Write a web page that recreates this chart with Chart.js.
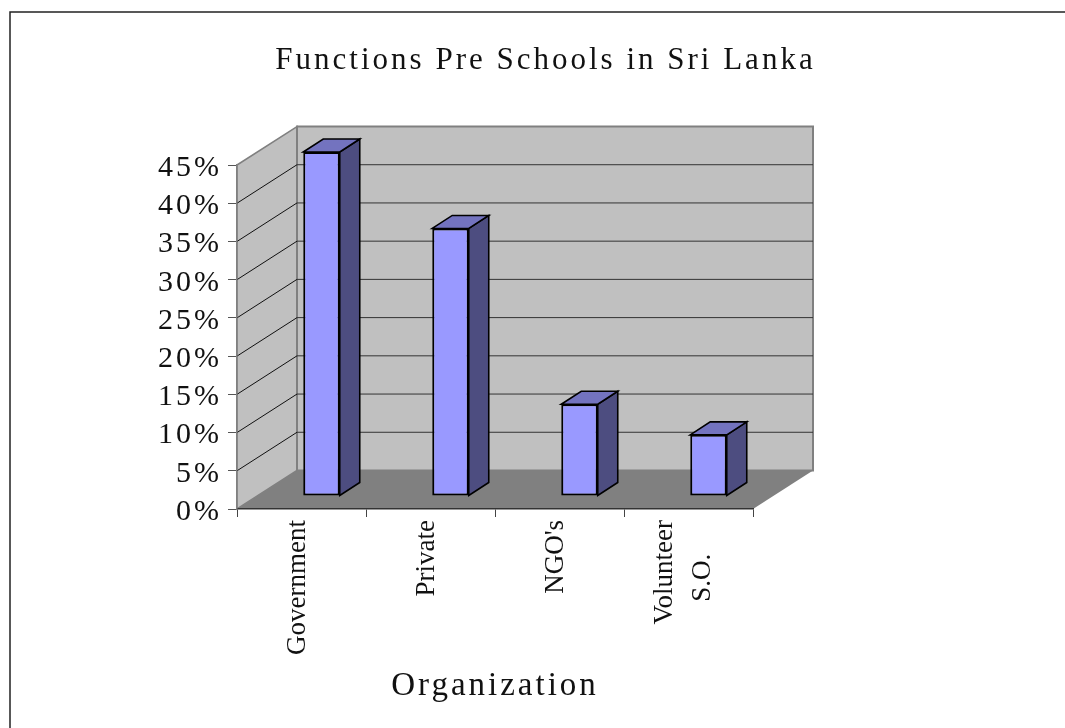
<!DOCTYPE html>
<html>
<head>
<meta charset="utf-8">
<title>Functions Pre Schools in Sri Lanka</title>
<script src="https://cdn.jsdelivr.net/npm/chart.js@4"></script>
<style>
  html, body { margin: 0; padding: 0; background: #fff; }
  canvas { display: block; }
</style>
</head>
<body>
<canvas id="chart" width="1065" height="728"></canvas>
<script>
const categories = ['Government', 'Private', "NGO's", ['Volunteer', 'S.O.']];
const shares = [45, 35, 12, 8];
const y_max = 45;
const y_step = 5;
const chart_title = 'Functions Pre Schools in Sri Lanka';
const x_title = 'Organization';

// depth of the floor and of the bars, in pixels
const wall_dx = 60, wall_dy = -38.5;
const bar_dx = 20, bar_dy = -13;
const serif = '"Liberation Serif", serif';

function poly(ctx, points, fill, stroke, width) {
    ctx.beginPath();
    points.forEach((p, i) => i ? ctx.lineTo(p[0], p[1]) : ctx.moveTo(p[0], p[1]));
    ctx.closePath();
    if (fill) { ctx.fillStyle = fill; ctx.fill(); }
    if (stroke) { ctx.strokeStyle = stroke; ctx.lineWidth = width; ctx.stroke(); }
}

const box3d = {
    id: 'box3d',
    afterLayout(chart) {
        // title sits a little right of the canvas middle
        chart.titleBlock.left = 26;
        chart.titleBlock.right = chart.width;
    },
    beforeDraw(chart) {
        const ctx = chart.ctx;
        const { left, right } = chart.chartArea;
        const y = chart.scales.y;
        const y0 = y.getPixelForValue(0), yTop = y.getPixelForValue(y_max);

        ctx.save();
        // page frame, only top and left are visible
        ctx.beginPath();
        ctx.moveTo(10, 728);
        ctx.lineTo(10, 12);
        ctx.lineTo(1065, 12);
        ctx.strokeStyle = '#222';
        ctx.lineWidth = 1.5;
        ctx.stroke();

        poly(ctx, [[left, yTop], [left + wall_dx, yTop + wall_dy], [left + wall_dx, y0 + wall_dy], [left, y0]], '#c0c0c0', '#808080', 1.5);
        poly(ctx, [[left + wall_dx, yTop + wall_dy], [right + wall_dx, yTop + wall_dy], [right + wall_dx, y0 + wall_dy], [left + wall_dx, y0 + wall_dy]], '#c0c0c0', '#808080', 2);
        poly(ctx, [[left, y0], [right, y0], [right + wall_dx, y0 + wall_dy], [left + wall_dx, y0 + wall_dy]], '#808080');

        // grid runs along the side wall then across the back wall
        ctx.lineWidth = 1;
        for (let v = y_step; v < y_max; v += y_step) {
            const py = y.getPixelForValue(v);
            ctx.beginPath();
            ctx.moveTo(left, py);
            ctx.lineTo(left + wall_dx, py + wall_dy);
            ctx.strokeStyle = '#111';
            ctx.stroke();
            ctx.beginPath();
            ctx.moveTo(left + wall_dx, py + wall_dy);
            ctx.lineTo(right + wall_dx, py + wall_dy);
            ctx.strokeStyle = '#333';
            ctx.stroke();
        }
        ctx.restore();

        // wrapped label sits further left than the single line ones
        chart.scales.x.getLabelItems().forEach(item => {
            if (Array.isArray(item.label)) {
                item.options.translation[0] -= 20;
            }
        });

        // title, axis title and y ticks are letter spaced
        ctx.letterSpacing = '3px';
    },
    beforeDatasetsDraw(chart) {
        chart.ctx.letterSpacing = '0px';
    },
    beforeDatasetDraw(chart, args) {
        const ctx = chart.ctx;
        ctx.save();
        ctx.translate(bar_dx, bar_dy);
        args.meta.data.forEach(bar => {
            const p = bar.getProps(['x', 'y', 'base', 'width'], true);
            const l = p.x - p.width / 2, r = p.x + p.width / 2;
            ctx.lineJoin = 'miter';
            poly(ctx, [[r, p.y], [r + bar_dx, p.y + bar_dy], [r + bar_dx, p.base + bar_dy], [r, p.base]], '#4d4d80', '#000', 1.6);
            poly(ctx, [[l, p.y], [l + bar_dx, p.y + bar_dy], [r + bar_dx, p.y + bar_dy], [r, p.y]], '#7373bf', '#000', 1.6);
        });
    },
    afterDatasetDraw(chart) {
        chart.ctx.restore();
    }
};

new Chart(document.getElementById('chart'), {
    type: 'bar',
    data: {
        labels: categories,
        datasets: [{
            data: shares,
            backgroundColor: '#9999ff',
            borderColor: '#000',
            borderWidth: 2,
            borderSkipped: false,
            barPercentage: 0.283,
            categoryPercentage: 1,
            clip: false
        }]
    },
    options: {
        responsive: false,
        animation: false,
        layout: { padding: { left: 0, right: 312, top: 0, bottom: 0 } },
        plugins: {
            legend: { display: false },
            tooltip: { enabled: false },
            title: {
                display: true,
                text: chart_title,
                color: '#111',
                font: { family: serif, size: 31, weight: 'normal', lineHeight: 1.2 },
                padding: { top: 42, bottom: 85.8 }
            }
        },
        scales: {
            x: {
                afterFit(scale) { scale.height = 219; },
                grid: { drawOnChartArea: false, tickLength: 8, color: '#444' },
                border: { color: '#333', width: 1.5 },
                ticks: {
                    z: 1,
                    color: '#111',
                    padding: 3,
                    labelOffset: -4,
                    minRotation: 90,
                    maxRotation: 90,
                    autoSkip: false,
                    font: { family: serif, size: 27, lineHeight: 1.44 },
                    // lines of a wrapped label are centred on the longest one
                    callback(value) {
                        const label = this.getLabelForValue(value);
                        return Array.isArray(label) ? [label[0], label[1] + '     '] : label;
                    }
                },
                title: {
                    display: true,
                    text: x_title,
                    color: '#111',
                    font: { family: serif, size: 33, lineHeight: 1.2 },
                    padding: { top: 0, bottom: 22 }
                }
            },
            y: {
                min: 0,
                max: y_max,
                afterFit(scale) { scale.width = 237; },
                grid: { drawOnChartArea: false, tickLength: 9, color: '#555' },
                border: { color: '#808080', width: 1.5 },
                ticks: {
                    stepSize: y_step,
                    autoSkip: false,
                    color: '#111',
                    padding: 6,
                    labelOffset: 3,
                    font: { family: serif, size: 30 },
                    callback: value => value + '%'
                }
            }
        }
    },
    plugins: [box3d]
});
</script>
</body>
</html>
